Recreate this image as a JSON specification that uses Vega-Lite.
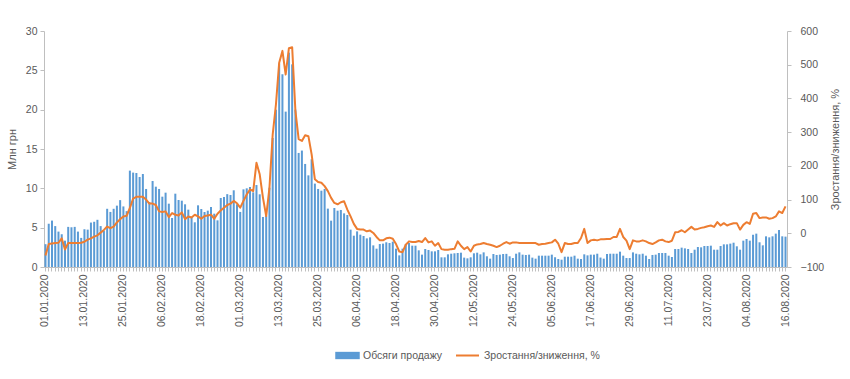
{
"$schema":"https://vega.github.io/schema/vega-lite/v6.json",
"width":743,"height":236,"autosize":"none",
"padding":{"left":44,"top":31,"right":63,"bottom":112},
"background":"white",
"config":{"view":{"stroke":null},"font":"Liberation Sans",
"axis":{"labelColor":"#595959","titleColor":"#595959","labelFontSize":10.5,"titleFontSize":11,"titleFontWeight":"normal","domainColor":"#BFBFBF","tickColor":"#BFBFBF","grid":false,"tickSize":4},
"legend":{"labelColor":"#595959","labelFontSize":10.5,"padding":0}},
"data":{"values":[
{"d":"01.01.2020","v":2.9,"p":-66},{"d":"02.01.2020","v":5.5,"p":-32},{"d":"03.01.2020","v":5.9,"p":-30},{"d":"04.01.2020","v":5.2,"p":-29},{"d":"05.01.2020","v":4.5,"p":-28},{"d":"06.01.2020","v":4.15,"p":-15},{"d":"07.01.2020","v":3.35,"p":-48},{"d":"08.01.2020","v":5.1,"p":-29},{"d":"09.01.2020","v":5.05,"p":-29},{"d":"10.01.2020","v":5.1,"p":-29},{"d":"11.01.2020","v":4.5,"p":-29},{"d":"12.01.2020","v":3.7,"p":-28},{"d":"13.01.2020","v":4.8,"p":-25},{"d":"14.01.2020","v":4.75,"p":-19},{"d":"15.01.2020","v":5.65,"p":-15},{"d":"16.01.2020","v":5.75,"p":-10},{"d":"17.01.2020","v":6.0,"p":-6},{"d":"18.01.2020","v":5.2,"p":2},{"d":"19.01.2020","v":4.6,"p":10},{"d":"20.01.2020","v":7.4,"p":20},{"d":"21.01.2020","v":7.0,"p":15},{"d":"22.01.2020","v":7.4,"p":20},{"d":"23.01.2020","v":7.8,"p":32},{"d":"24.01.2020","v":8.5,"p":42},{"d":"25.01.2020","v":7.7,"p":50},{"d":"26.01.2020","v":7.1,"p":52},{"d":"27.01.2020","v":12.25,"p":75},{"d":"28.01.2020","v":12.0,"p":103},{"d":"29.01.2020","v":11.95,"p":108},{"d":"30.01.2020","v":11.44,"p":108},{"d":"31.01.2020","v":11.82,"p":108},
{"d":"01.02.2020","v":9.92,"p":100},{"d":"02.02.2020","v":8.26,"p":88},{"d":"03.02.2020","v":10.93,"p":88},{"d":"04.02.2020","v":10.21,"p":84},{"d":"05.02.2020","v":9.92,"p":65},{"d":"06.02.2020","v":8.94,"p":63},{"d":"07.02.2020","v":9.45,"p":65},{"d":"08.02.2020","v":8.05,"p":48},{"d":"09.02.2020","v":6.23,"p":60},{"d":"10.02.2020","v":9.32,"p":55},{"d":"11.02.2020","v":8.52,"p":53},{"d":"12.02.2020","v":8.43,"p":62},{"d":"13.02.2020","v":7.97,"p":42},{"d":"14.02.2020","v":7.29,"p":50},{"d":"15.02.2020","v":6.31,"p":47},{"d":"16.02.2020","v":5.68,"p":55},{"d":"17.02.2020","v":7.84,"p":50},{"d":"18.02.2020","v":7.37,"p":43},{"d":"19.02.2020","v":6.99,"p":51},{"d":"20.02.2020","v":7.16,"p":53},{"d":"21.02.2020","v":7.63,"p":55},{"d":"22.02.2020","v":6.78,"p":43},{"d":"23.02.2020","v":5.93,"p":58},{"d":"24.02.2020","v":8.77,"p":68},{"d":"25.02.2020","v":8.9,"p":76},{"d":"26.02.2020","v":9.26,"p":84},{"d":"27.02.2020","v":9.15,"p":88},{"d":"28.02.2020","v":9.75,"p":96},{"d":"29.02.2020","v":7.97,"p":89},
{"d":"01.03.2020","v":7.0,"p":76},{"d":"02.03.2020","v":9.87,"p":96},{"d":"03.03.2020","v":10.0,"p":115},{"d":"04.03.2020","v":10.17,"p":130},{"d":"05.03.2020","v":9.49,"p":125},{"d":"06.03.2020","v":10.42,"p":209},{"d":"07.03.2020","v":9.24,"p":175},{"d":"08.03.2020","v":6.36,"p":106},{"d":"09.03.2020","v":6.48,"p":51},{"d":"10.03.2020","v":10.08,"p":135},{"d":"11.03.2020","v":16.4,"p":293},{"d":"12.03.2020","v":20.0,"p":382},{"d":"13.03.2020","v":25.85,"p":506},{"d":"14.03.2020","v":24.5,"p":541},{"d":"15.03.2020","v":19.75,"p":471},{"d":"16.03.2020","v":27.25,"p":549},{"d":"17.03.2020","v":25.76,"p":552},{"d":"18.03.2020","v":20.0,"p":363},{"d":"19.03.2020","v":14.5,"p":279},{"d":"20.03.2020","v":14.8,"p":274},{"d":"21.03.2020","v":13.1,"p":291},{"d":"22.03.2020","v":11.65,"p":288},{"d":"23.03.2020","v":13.7,"p":234},{"d":"24.03.2020","v":10.6,"p":160},{"d":"25.03.2020","v":9.92,"p":152},{"d":"26.03.2020","v":9.7,"p":150},{"d":"27.03.2020","v":9.92,"p":140},{"d":"28.03.2020","v":7.42,"p":125},{"d":"29.03.2020","v":5.89,"p":105},{"d":"30.03.2020","v":7.5,"p":90},{"d":"31.03.2020","v":7.16,"p":86},
{"d":"01.04.2020","v":7.25,"p":92},{"d":"02.04.2020","v":6.82,"p":95},{"d":"03.04.2020","v":6.61,"p":70},{"d":"04.04.2020","v":4.75,"p":50},{"d":"05.04.2020","v":3.98,"p":28},{"d":"06.04.2020","v":4.53,"p":13},{"d":"07.04.2020","v":4.11,"p":11},{"d":"08.04.2020","v":3.94,"p":11},{"d":"09.04.2020","v":3.64,"p":6},{"d":"10.04.2020","v":3.77,"p":8},{"d":"11.04.2020","v":2.75,"p":1},{"d":"12.04.2020","v":2.33,"p":-11},{"d":"13.04.2020","v":2.92,"p":-21},{"d":"14.04.2020","v":2.97,"p":-21},{"d":"15.04.2020","v":3.14,"p":-15},{"d":"16.04.2020","v":3.05,"p":-13},{"d":"17.04.2020","v":3.22,"p":-16},{"d":"18.04.2020","v":2.33,"p":-32},{"d":"19.04.2020","v":1.48,"p":-54},{"d":"20.04.2020","v":2.33,"p":-56},{"d":"21.04.2020","v":2.92,"p":-34},{"d":"22.04.2020","v":3.05,"p":-24},{"d":"23.04.2020","v":2.71,"p":-26},{"d":"24.04.2020","v":2.71,"p":-26},{"d":"25.04.2020","v":2.12,"p":-23},{"d":"26.04.2020","v":1.57,"p":-26},{"d":"27.04.2020","v":2.29,"p":-14},{"d":"28.04.2020","v":2.16,"p":-27},{"d":"29.04.2020","v":1.99,"p":-24},{"d":"30.04.2020","v":1.99,"p":-37},
{"d":"01.05.2020","v":2.16,"p":-29},{"d":"02.05.2020","v":1.23,"p":-47},{"d":"03.05.2020","v":1.23,"p":-49},{"d":"04.05.2020","v":1.61,"p":-49},{"d":"05.05.2020","v":1.69,"p":-47},{"d":"06.05.2020","v":1.74,"p":-46},{"d":"07.05.2020","v":1.78,"p":-24},{"d":"08.05.2020","v":1.82,"p":-37},{"d":"09.05.2020","v":1.19,"p":-47},{"d":"10.05.2020","v":1.1,"p":-41},{"d":"11.05.2020","v":1.23,"p":-54},{"d":"12.05.2020","v":1.74,"p":-37},{"d":"13.05.2020","v":1.82,"p":-33},{"d":"14.05.2020","v":1.61,"p":-32},{"d":"15.05.2020","v":1.86,"p":-29},{"d":"16.05.2020","v":1.36,"p":-32},{"d":"17.05.2020","v":1.06,"p":-34},{"d":"18.05.2020","v":1.65,"p":-37},{"d":"19.05.2020","v":1.53,"p":-41},{"d":"20.05.2020","v":1.57,"p":-37},{"d":"21.05.2020","v":1.65,"p":-31},{"d":"22.05.2020","v":1.67,"p":-26},{"d":"23.05.2020","v":1.36,"p":-31},{"d":"24.05.2020","v":1.14,"p":-27},{"d":"25.05.2020","v":1.69,"p":-27},{"d":"26.05.2020","v":1.86,"p":-29},{"d":"27.05.2020","v":1.57,"p":-29},{"d":"28.05.2020","v":1.53,"p":-29},{"d":"29.05.2020","v":1.57,"p":-29},{"d":"30.05.2020","v":1.19,"p":-29},{"d":"31.05.2020","v":1.06,"p":-29},
{"d":"01.06.2020","v":1.44,"p":-34},{"d":"02.06.2020","v":1.44,"p":-32},{"d":"03.06.2020","v":1.44,"p":-31},{"d":"04.06.2020","v":1.44,"p":-29},{"d":"05.06.2020","v":1.57,"p":-27},{"d":"06.06.2020","v":1.23,"p":-19},{"d":"07.06.2020","v":1.02,"p":-31},{"d":"08.06.2020","v":0.93,"p":-56},{"d":"09.06.2020","v":1.31,"p":-29},{"d":"10.06.2020","v":1.31,"p":-32},{"d":"11.06.2020","v":1.31,"p":-32},{"d":"12.06.2020","v":1.44,"p":-29},{"d":"13.06.2020","v":1.06,"p":-29},{"d":"14.06.2020","v":1.02,"p":-14},{"d":"15.06.2020","v":1.61,"p":13},{"d":"16.06.2020","v":1.48,"p":-29},{"d":"17.06.2020","v":1.57,"p":-21},{"d":"18.06.2020","v":1.57,"p":-19},{"d":"19.06.2020","v":1.69,"p":-21},{"d":"20.06.2020","v":1.2,"p":-18},{"d":"21.06.2020","v":1.06,"p":-18},{"d":"22.06.2020","v":1.65,"p":-17},{"d":"23.06.2020","v":1.69,"p":-17},{"d":"24.06.2020","v":1.69,"p":-11},{"d":"25.06.2020","v":1.69,"p":-11},{"d":"26.06.2020","v":1.95,"p":13},{"d":"27.06.2020","v":1.44,"p":-11},{"d":"28.06.2020","v":1.14,"p":-22},{"d":"29.06.2020","v":1.14,"p":-47},{"d":"30.06.2020","v":1.86,"p":-21},
{"d":"01.07.2020","v":1.69,"p":-24},{"d":"02.07.2020","v":1.61,"p":-24},{"d":"03.07.2020","v":1.69,"p":-21},{"d":"04.07.2020","v":1.44,"p":-24},{"d":"05.07.2020","v":1.02,"p":-29},{"d":"06.07.2020","v":1.53,"p":-32},{"d":"07.07.2020","v":1.57,"p":-27},{"d":"08.07.2020","v":1.78,"p":-21},{"d":"09.07.2020","v":1.78,"p":-19},{"d":"10.07.2020","v":1.78,"p":-24},{"d":"11.07.2020","v":1.44,"p":-26},{"d":"12.07.2020","v":1.27,"p":-22},{"d":"13.07.2020","v":2.29,"p":3},{"d":"14.07.2020","v":2.29,"p":4},{"d":"15.07.2020","v":2.46,"p":9},{"d":"16.07.2020","v":2.37,"p":3},{"d":"17.07.2020","v":2.29,"p":11},{"d":"18.07.2020","v":1.78,"p":19},{"d":"19.07.2020","v":2.2,"p":11},{"d":"20.07.2020","v":2.54,"p":13},{"d":"21.07.2020","v":2.5,"p":16},{"d":"22.07.2020","v":2.67,"p":18},{"d":"23.07.2020","v":2.67,"p":21},{"d":"24.07.2020","v":2.71,"p":23},{"d":"25.07.2020","v":2.2,"p":19},{"d":"26.07.2020","v":2.2,"p":33},{"d":"27.07.2020","v":2.67,"p":23},{"d":"28.07.2020","v":2.88,"p":30},{"d":"29.07.2020","v":2.88,"p":23},{"d":"30.07.2020","v":2.97,"p":27},{"d":"31.07.2020","v":3.09,"p":30},
{"d":"01.08.2020","v":2.63,"p":30},{"d":"02.08.2020","v":2.2,"p":11},{"d":"03.08.2020","v":3.35,"p":25},{"d":"04.08.2020","v":3.56,"p":33},{"d":"05.08.2020","v":3.35,"p":28},{"d":"06.08.2020","v":4.1,"p":58},{"d":"07.08.2020","v":4.24,"p":60},{"d":"08.08.2020","v":3.14,"p":45},{"d":"09.08.2020","v":2.75,"p":47},{"d":"10.08.2020","v":3.9,"p":47},{"d":"11.08.2020","v":3.77,"p":43},{"d":"12.08.2020","v":3.9,"p":45},{"d":"13.08.2020","v":4.24,"p":50},{"d":"14.08.2020","v":4.7,"p":65},{"d":"15.08.2020","v":3.9,"p":60},{"d":"16.08.2020","v":3.86,"p":80}
]},
"encoding":{"x":{"field":"d","type":"ordinal","sort":null,"title":null,
"scale":{"paddingInner":0.38,"paddingOuter":0.15},
"axis":{"labelAngle":270,"labelOverlap":false,"labelBound":false,"labelPadding":3,"tickSize":4,
"labelExpr":"indexof('01.01.2020 13.01.2020 25.01.2020 06.02.2020 18.02.2020 01.03.2020 13.03.2020 25.03.2020 06.04.2020 18.04.2020 30.04.2020 12.05.2020 24.05.2020 05.06.2020 17.06.2020 29.06.2020 11.07.2020 23.07.2020 04.08.2020 16.08.2020', datum.value) >= 0 ? datum.value : ''"}}},
"layer":[
{"mark":{"type":"bar"},
"encoding":{"y":{"field":"v","type":"quantitative","scale":{"domain":[0,30],"nice":false},"axis":{"values":[0,5,10,15,20,25,30],"title":"Млн грн","titlePadding":8,"labelPadding":3}},
"fill":{"datum":"Обсяги продажу","type":"nominal","scale":{"range":["#5B9BD5"]},"legend":{"orient":"none","legendX":291,"legendY":312,"title":null,"symbolType":"M-1,-0.3H1V0.3H-1Z","symbolSize":600,"symbolStrokeWidth":0,"labelOffset":3}}}},
{"mark":{"type":"line","strokeWidth":2,"strokeJoin":"round"},
"encoding":{"y":{"field":"p","type":"quantitative","scale":{"domain":[-100,600],"nice":false},"axis":{"orient":"right","values":[-100,0,100,200,300,400,500,600],"title":"Зростання/зниження, %","titleAngle":270,"titlePadding":17,"labelPadding":9}},
"stroke":{"datum":"Зростання/зниження, %","type":"nominal","scale":{"range":["#ED7D31"]},"legend":{"orient":"none","legendX":411,"legendY":312,"title":null,"symbolType":"stroke","symbolSize":529,"symbolStrokeWidth":2,"labelOffset":4}}}}
],
"resolve":{"scale":{"y":"independent"}}
}
